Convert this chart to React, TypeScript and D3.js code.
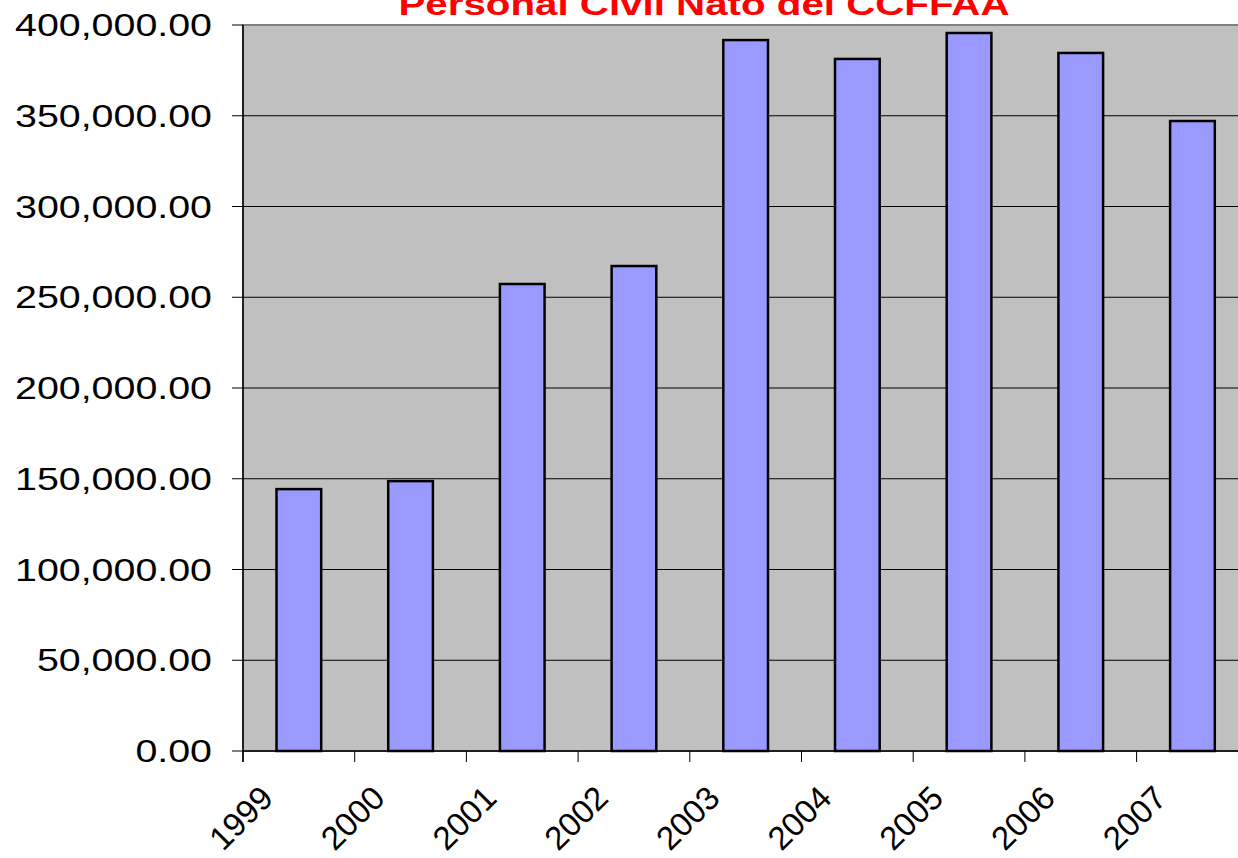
import React, { useEffect, useRef } from 'react';
import * as d3 from 'd3';

// data
const years = ['1999', '2000', '2001', '2002', '2003', '2004', '2005', '2006', '2007'];
const values = [144300, 148700, 257300, 267200, 391700, 381300, 395600, 384600, 347100];
const yTicks = [0, 50000, 100000, 150000, 200000, 250000, 300000, 350000, 400000];
const title = 'Personal Civil Nato del CCFFAA';

const W = 1238;
const H = 858;
const FONT = '"Liberation Sans", Arial, sans-serif';
const STRETCH = 1.27; // the original text is drawn horizontally stretched

const App = () => {
  const ref = useRef<SVGSVGElement>(null);

  useEffect(() => {
    const svg = d3.select(ref.current);
    svg.selectAll('*').remove();

    const left = 243, top = 25, bottom = 751;
    const step = 111.7;
    const right = left + step * years.length; // runs past the picture edge

    const x = d3.scaleBand<string>()
      .domain(years)
      .range([left, right])
      .paddingInner(0.6)
      .paddingOuter(0.3);

    const y = d3.scaleLinear()
      .domain([0, 400000])
      .range([bottom, top]);

    // plot area
    svg.append('rect')
      .attr('x', left)
      .attr('y', top)
      .attr('width', right - left)
      .attr('height', bottom - top)
      .style('fill', '#c0c0c0')
      .style('stroke', '#808080')
      .style('stroke-width', 2);

    // gridlines
    svg.selectAll('.grid')
      .data(yTicks.filter(t => t > 0 && t < 400000))
      .enter()
      .append('line')
      .attr('x1', left)
      .attr('x2', right)
      .attr('y1', d => y(d))
      .attr('y2', d => y(d))
      .style('stroke', '#000')
      .style('stroke-width', 1);

    // bars
    svg.selectAll('.bar')
      .data(values)
      .enter()
      .append('rect')
      .attr('x', (d, i) => x(years[i])!)
      .attr('y', d => y(d))
      .attr('width', x.bandwidth())
      .attr('height', d => bottom - y(d))
      .style('fill', '#9999ff')
      .style('stroke', '#000')
      .style('stroke-width', 2.5);

    // y axis
    const fmt = d3.format(',.2f');
    svg.append('line')
      .attr('x1', left).attr('x2', left)
      .attr('y1', top).attr('y2', bottom + 11)
      .style('stroke', '#000').style('stroke-width', 1.5);
    const yt = svg.selectAll('.ytick')
      .data(yTicks)
      .enter()
      .append('g')
      .attr('transform', d => `translate(0,${y(d)})`);
    yt.append('line')
      .attr('x1', left - 11).attr('x2', left)
      .style('stroke', '#000').style('stroke-width', 1);
    yt.append('text')
      .attr('transform', `translate(212,0) scale(${STRETCH},1)`)
      .attr('dy', '0.36em')
      .attr('text-anchor', 'end')
      .style('font-family', FONT)
      .style('font-size', '31px')
      .style('fill', '#000')
      .text(d => fmt(d));

    // x axis, ticks sit at category boundaries
    svg.append('line')
      .attr('x1', left).attr('x2', right)
      .attr('y1', bottom).attr('y2', bottom)
      .style('stroke', '#000').style('stroke-width', 1.5);
    const off = (x.step() - x.bandwidth()) / 2;
    const xt = svg.selectAll('.xtick')
      .data(years)
      .enter()
      .append('g')
      .attr('transform', d => `translate(${x(d)! - off},${bottom})`);
    xt.append('line')
      .attr('y1', 0).attr('y2', 11)
      .style('stroke', '#000').style('stroke-width', 1);
    xt.append('text')
      .attr('transform', 'translate(32,49) rotate(-45)')
      .attr('text-anchor', 'end')
      .style('font-family', FONT)
      .style('font-size', '33px')
      .style('fill', '#000')
      .text(d => d);

    // title, cut off at the top like the original
    svg.append('text')
      .attr('transform', 'translate(704,15) scale(1.3,1)')
      .attr('text-anchor', 'middle')
      .style('font-family', FONT)
      .style('font-size', '31px')
      .style('font-weight', 'bold')
      .style('fill', '#ff0000')
      .text(title);
  }, []);

  return (
    <svg
      ref={ref}
      width={W}
      height={H}
      style={{ position: 'absolute', left: 0, top: 0, background: '#fff', display: 'block' }}
    />
  );
};

export default App;
